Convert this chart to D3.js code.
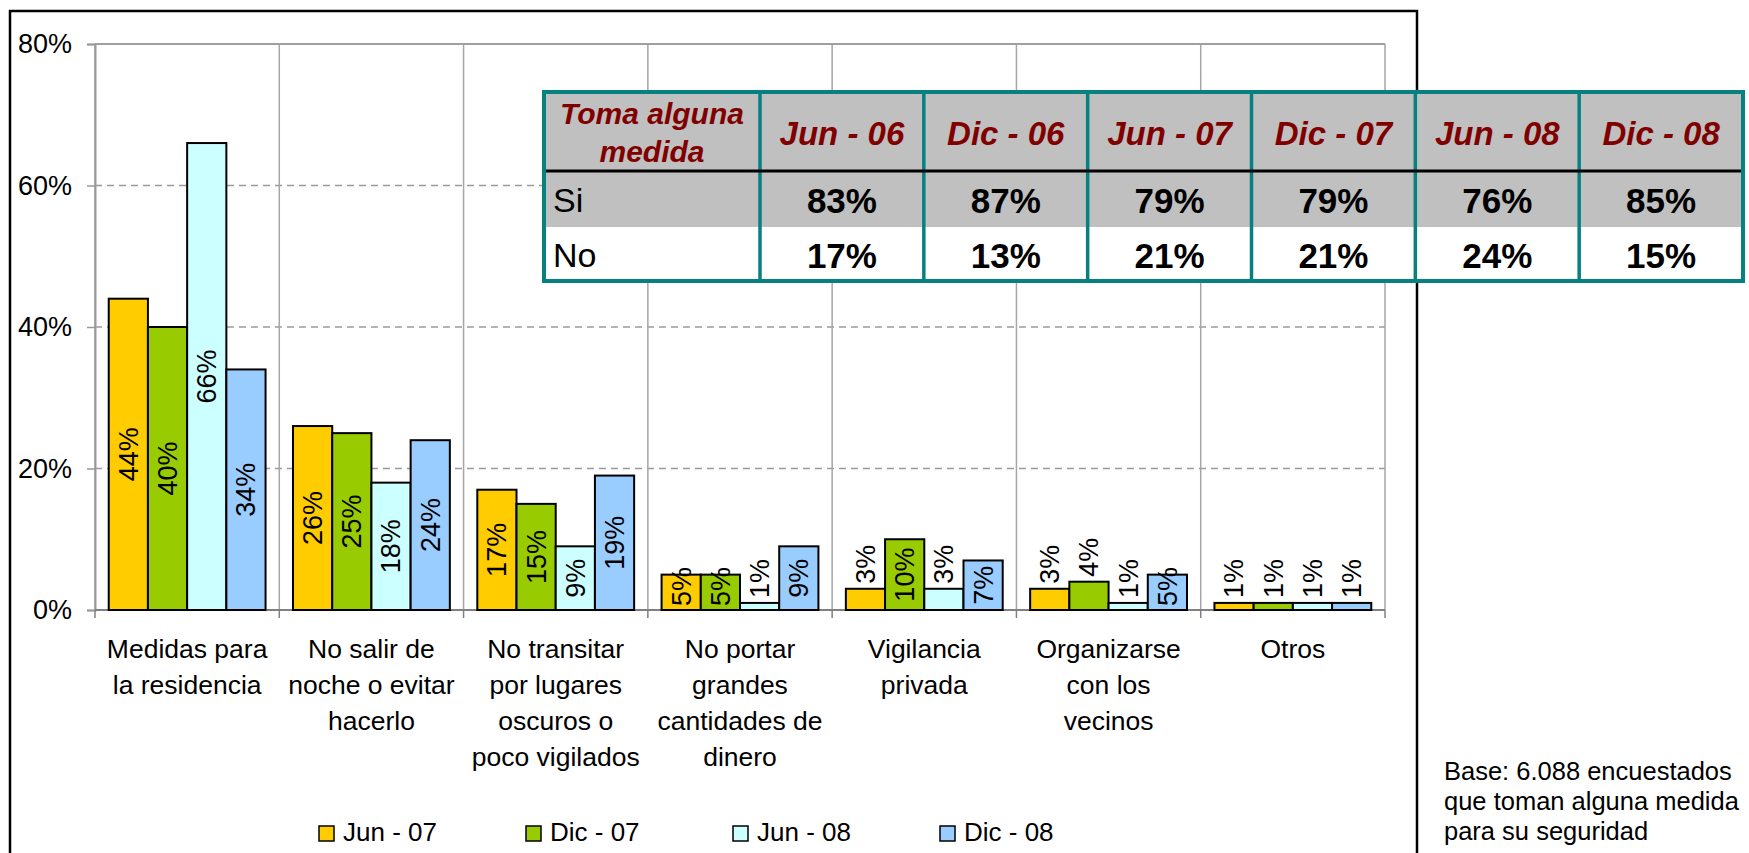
<!DOCTYPE html>
<html>
<head>
<meta charset="utf-8">
<script src="https://cdn.jsdelivr.net/npm/d3@7"></script>
<style>
  html, body { margin: 0; padding: 0; background: #ffffff; }
  svg { display: block; font-family: "Liberation Sans", Arial, Helvetica, sans-serif; }
</style>
</head>
<body>
<svg id="chart" width="1749" height="853"></svg>
<script>
// Medidas de seguridad tomadas por los encuestados (% por período)
const categories = [
  ["Medidas para", "la residencia"],
  ["No salir de", "noche o evitar", "hacerlo"],
  ["No transitar", "por lugares", "oscuros o", "poco vigilados"],
  ["No portar", "grandes", "cantidades de", "dinero"],
  ["Vigilancia", "privada"],
  ["Organizarse", "con los", "vecinos"],
  ["Otros"]
];
const seriesNames = ["Jun - 07", "Dic - 07", "Jun - 08", "Dic - 08"];
const jun07 = [44, 26, 17, 5, 3, 3, 1];
const dic07 = [40, 25, 15, 5, 10, 4, 1];
const jun08 = [66, 18, 9, 1, 3, 1, 1];
const dic08 = [34, 24, 19, 9, 7, 5, 1];
const seriesColors = ["#FFCC00", "#99CC00", "#CCFFFF", "#99CCFF"];
const yTicks = [0, 20, 40, 60, 80];

// Tabla: "Toma alguna medida"
const tableTitle = ["Toma alguna", "medida"];
const tablePeriods = ["Jun - 06", "Dic - 06", "Jun - 07", "Dic - 07", "Jun - 08", "Dic - 08"];
const tableRowLabels = ["Si", "No"];
const siValues = [83, 87, 79, 79, 76, 85];
const noValues = [17, 13, 21, 21, 24, 15];

const baseNote = ["Base: 6.088 encuestados", "que toman alguna medida", "para su seguridad"];

const seriesValues = [jun07, dic07, jun08, dic08];

const svg = d3.select("#chart");

// Marco exterior del gráfico
svg.append("rect")
  .attr("x", 10).attr("y", 11)
  .attr("width", 1407).attr("height", 880)
  .attr("fill", "none").attr("stroke", "#000").attr("stroke-width", 2.5);

const plot = { left: 95, right: 1385, top: 44, bottom: 610 };

const x0 = d3.scaleBand()
  .domain(d3.range(categories.length))
  .range([plot.left, plot.right])
  .paddingInner(0).paddingOuter(0);

const x1 = d3.scaleBand()
  .domain(d3.range(seriesNames.length))
  .range([0, x0.bandwidth()])
  .paddingInner(0).paddingOuter(0.35);

const y = d3.scaleLinear().domain([0, 80]).range([plot.bottom, plot.top]);

// Líneas de división horizontales (punteadas)
svg.append("g").selectAll("line")
  .data(yTicks.filter(t => t > 0 && t < 80))
  .join("line")
  .attr("x1", plot.left).attr("x2", plot.right)
  .attr("y1", d => y(d)).attr("y2", d => y(d))
  .attr("stroke", "#9a9a9a").attr("stroke-width", 1.5)
  .attr("stroke-dasharray", "7,5");

// Líneas de división verticales entre categorías
const boundaries = d3.range(categories.length + 1).map(i =>
  i < categories.length ? x0(i) : x0(categories.length - 1) + x0.bandwidth());
svg.append("g").selectAll("line")
  .data(boundaries)
  .join("line")
  .attr("x1", d => d).attr("x2", d => d)
  .attr("y1", plot.top).attr("y2", plot.bottom)
  .attr("stroke", "#a6a6a6").attr("stroke-width", 1.5);

// Borde superior del área de trazado
svg.append("line")
  .attr("x1", plot.left).attr("x2", plot.right)
  .attr("y1", plot.top).attr("y2", plot.top)
  .attr("stroke", "#a0a0a0").attr("stroke-width", 2);

// Eje Y
const yAxis = d3.axisLeft(y)
  .tickValues(yTicks)
  .tickFormat(d => d + "%")
  .tickSize(8)
  .tickPadding(15);
const gy = svg.append("g")
  .attr("transform", `translate(${plot.left},0)`)
  .call(yAxis);
gy.select(".domain").attr("stroke", "#999").attr("stroke-width", 2);
gy.selectAll(".tick line").attr("stroke", "#999").attr("stroke-width", 1.5);
gy.selectAll(".tick text")
  .attr("font-size", 27).attr("fill", "#000")
  .attr("font-family", "Liberation Sans, Arial, sans-serif");

// Eje X (línea base y marcas)
svg.append("line")
  .attr("x1", plot.left).attr("x2", plot.right)
  .attr("y1", plot.bottom).attr("y2", plot.bottom)
  .attr("stroke", "#808080").attr("stroke-width", 2);
svg.append("g").selectAll("line")
  .data(boundaries)
  .join("line")
  .attr("x1", d => d).attr("x2", d => d)
  .attr("y1", plot.bottom).attr("y2", plot.bottom + 8)
  .attr("stroke", "#808080").attr("stroke-width", 1.5);

// Barras
const groups = svg.append("g").selectAll("g")
  .data(categories.map((c, i) => i))
  .join("g")
  .attr("transform", i => `translate(${x0(i)},0)`);

groups.selectAll("rect")
  .data(i => seriesValues.map((vals, s) => ({ s, v: vals[i] })))
  .join("rect")
  .attr("x", d => x1(d.s))
  .attr("y", d => y(d.v))
  .attr("width", x1.bandwidth())
  .attr("height", d => y(0) - y(d.v))
  .attr("fill", d => seriesColors[d.s])
  .attr("stroke", "#000").attr("stroke-width", 2);

// Etiquetas de datos (rotadas)
groups.each(function (i) {
  const g = d3.select(this);
  seriesValues.forEach((vals, s) => {
    const v = vals[i];
    const cx = x1(s) + x1.bandwidth() / 2;
    const top = y(v);
    const h = y(0) - top;
    const t = g.append("text")
      .attr("font-size", 27)
      .attr("fill", "#000")
      .attr("dy", "0.35em")
      .text(v + "%");
    const len = t.node().getComputedTextLength();
    if (h >= 30) {
      let cy = (top + y(0)) / 2;
      cy = Math.min(cy, y(0) - 4 - len / 2);
      t.attr("text-anchor", "middle")
        .attr("transform", `translate(${cx},${cy}) rotate(-90)`);
    } else {
      t.attr("text-anchor", "start")
        .attr("transform", `translate(${cx},${top - 5}) rotate(-90)`);
    }
  });
});

// Etiquetas de categoría (varias líneas)
const catLabels = svg.append("g").selectAll("text")
  .data(categories)
  .join("text")
  .attr("text-anchor", "middle")
  .attr("font-size", 26.5)
  .attr("fill", "#000")
  .attr("x", (d, i) => x0(i) + x0.bandwidth() / 2)
  .attr("y", 658);
catLabels.selectAll("tspan")
  .data(d => d)
  .join("tspan")
  .attr("x", function () { return d3.select(this.parentNode).attr("x"); })
  .attr("dy", (d, j) => j === 0 ? 0 : 36)
  .text(d => d);

// Leyenda
const legend = svg.append("g").selectAll("g")
  .data(seriesNames)
  .join("g")
  .attr("transform", (d, i) => `translate(${319 + i * 207},826)`);
legend.append("rect")
  .attr("width", 15).attr("height", 15)
  .attr("fill", (d, i) => seriesColors[i])
  .attr("stroke", "#000").attr("stroke-width", 1.5);
legend.append("text")
  .attr("x", 24).attr("y", 15)
  .attr("font-size", 26).attr("fill", "#000")
  .text(d => d);

// Nota de base
svg.append("text")
  .attr("x", 1444).attr("y", 780)
  .attr("font-size", 25.5).attr("fill", "#000")
  .selectAll("tspan")
  .data(baseNote)
  .join("tspan")
  .attr("x", 1444)
  .attr("dy", (d, j) => j === 0 ? 0 : 30)
  .text(d => d);

// Tabla superpuesta
const tbl = { left: 544, firstColRight: 760, right: 1743, top: 92, headerBottom: 171, siBottom: 227, bottom: 281 };
const teal = "#078080";
const colX = d3.scaleBand()
  .domain(tablePeriods)
  .range([tbl.firstColRight, tbl.right])
  .padding(0);

const table = svg.append("g");
table.append("rect")
  .attr("x", tbl.left).attr("y", tbl.top)
  .attr("width", tbl.right - tbl.left).attr("height", tbl.siBottom - tbl.top)
  .attr("fill", "#C0C0C0");
table.append("rect")
  .attr("x", tbl.left).attr("y", tbl.siBottom)
  .attr("width", tbl.right - tbl.left).attr("height", tbl.bottom - tbl.siBottom)
  .attr("fill", "#ffffff");

// Separadores de columna
table.selectAll("line.col")
  .data([tbl.firstColRight, ...tablePeriods.slice(1).map(p => colX(p))])
  .join("line")
  .attr("class", "col")
  .attr("x1", d => d).attr("x2", d => d)
  .attr("y1", tbl.top).attr("y2", tbl.bottom)
  .attr("stroke", teal).attr("stroke-width", 3.5);

// Línea negra bajo el encabezado
table.append("line")
  .attr("x1", tbl.left).attr("x2", tbl.right)
  .attr("y1", tbl.headerBottom).attr("y2", tbl.headerBottom)
  .attr("stroke", "#000").attr("stroke-width", 3);

// Borde exterior
table.append("rect")
  .attr("x", tbl.left).attr("y", tbl.top)
  .attr("width", tbl.right - tbl.left).attr("height", tbl.bottom - tbl.top)
  .attr("fill", "none").attr("stroke", teal).attr("stroke-width", 4);

// Encabezados
table.append("text")
  .attr("text-anchor", "middle")
  .attr("font-size", 30).attr("font-weight", "bold").attr("font-style", "italic")
  .attr("fill", "#800000")
  .attr("x", (tbl.left + tbl.firstColRight) / 2).attr("y", 124)
  .selectAll("tspan")
  .data(tableTitle)
  .join("tspan")
  .attr("x", (tbl.left + tbl.firstColRight) / 2)
  .attr("dy", (d, j) => j === 0 ? 0 : 38)
  .text(d => d);

table.selectAll("text.period")
  .data(tablePeriods)
  .join("text")
  .attr("class", "period")
  .attr("text-anchor", "middle")
  .attr("font-size", 33).attr("font-weight", "bold").attr("font-style", "italic")
  .attr("fill", "#800000")
  .attr("x", d => colX(d) + colX.bandwidth() / 2)
  .attr("y", 145)
  .text(d => d);

// Filas Si / No
const rowBaselines = [212, 267];
table.selectAll("text.rowlabel")
  .data(tableRowLabels)
  .join("text")
  .attr("class", "rowlabel")
  .attr("font-size", 34).attr("fill", "#000")
  .attr("x", 553)
  .attr("y", (d, i) => rowBaselines[i])
  .text(d => d);

[siValues, noValues].forEach((vals, r) => {
  table.selectAll(`text.val${r}`)
    .data(vals)
    .join("text")
    .attr("class", `val${r}`)
    .attr("text-anchor", "middle")
    .attr("font-size", 35).attr("font-weight", "bold").attr("fill", "#000")
    .attr("x", (d, i) => colX(tablePeriods[i]) + colX.bandwidth() / 2)
    .attr("y", rowBaselines[r] + 1)
    .text(d => d + "%");
});
</script>
</body>
</html>
